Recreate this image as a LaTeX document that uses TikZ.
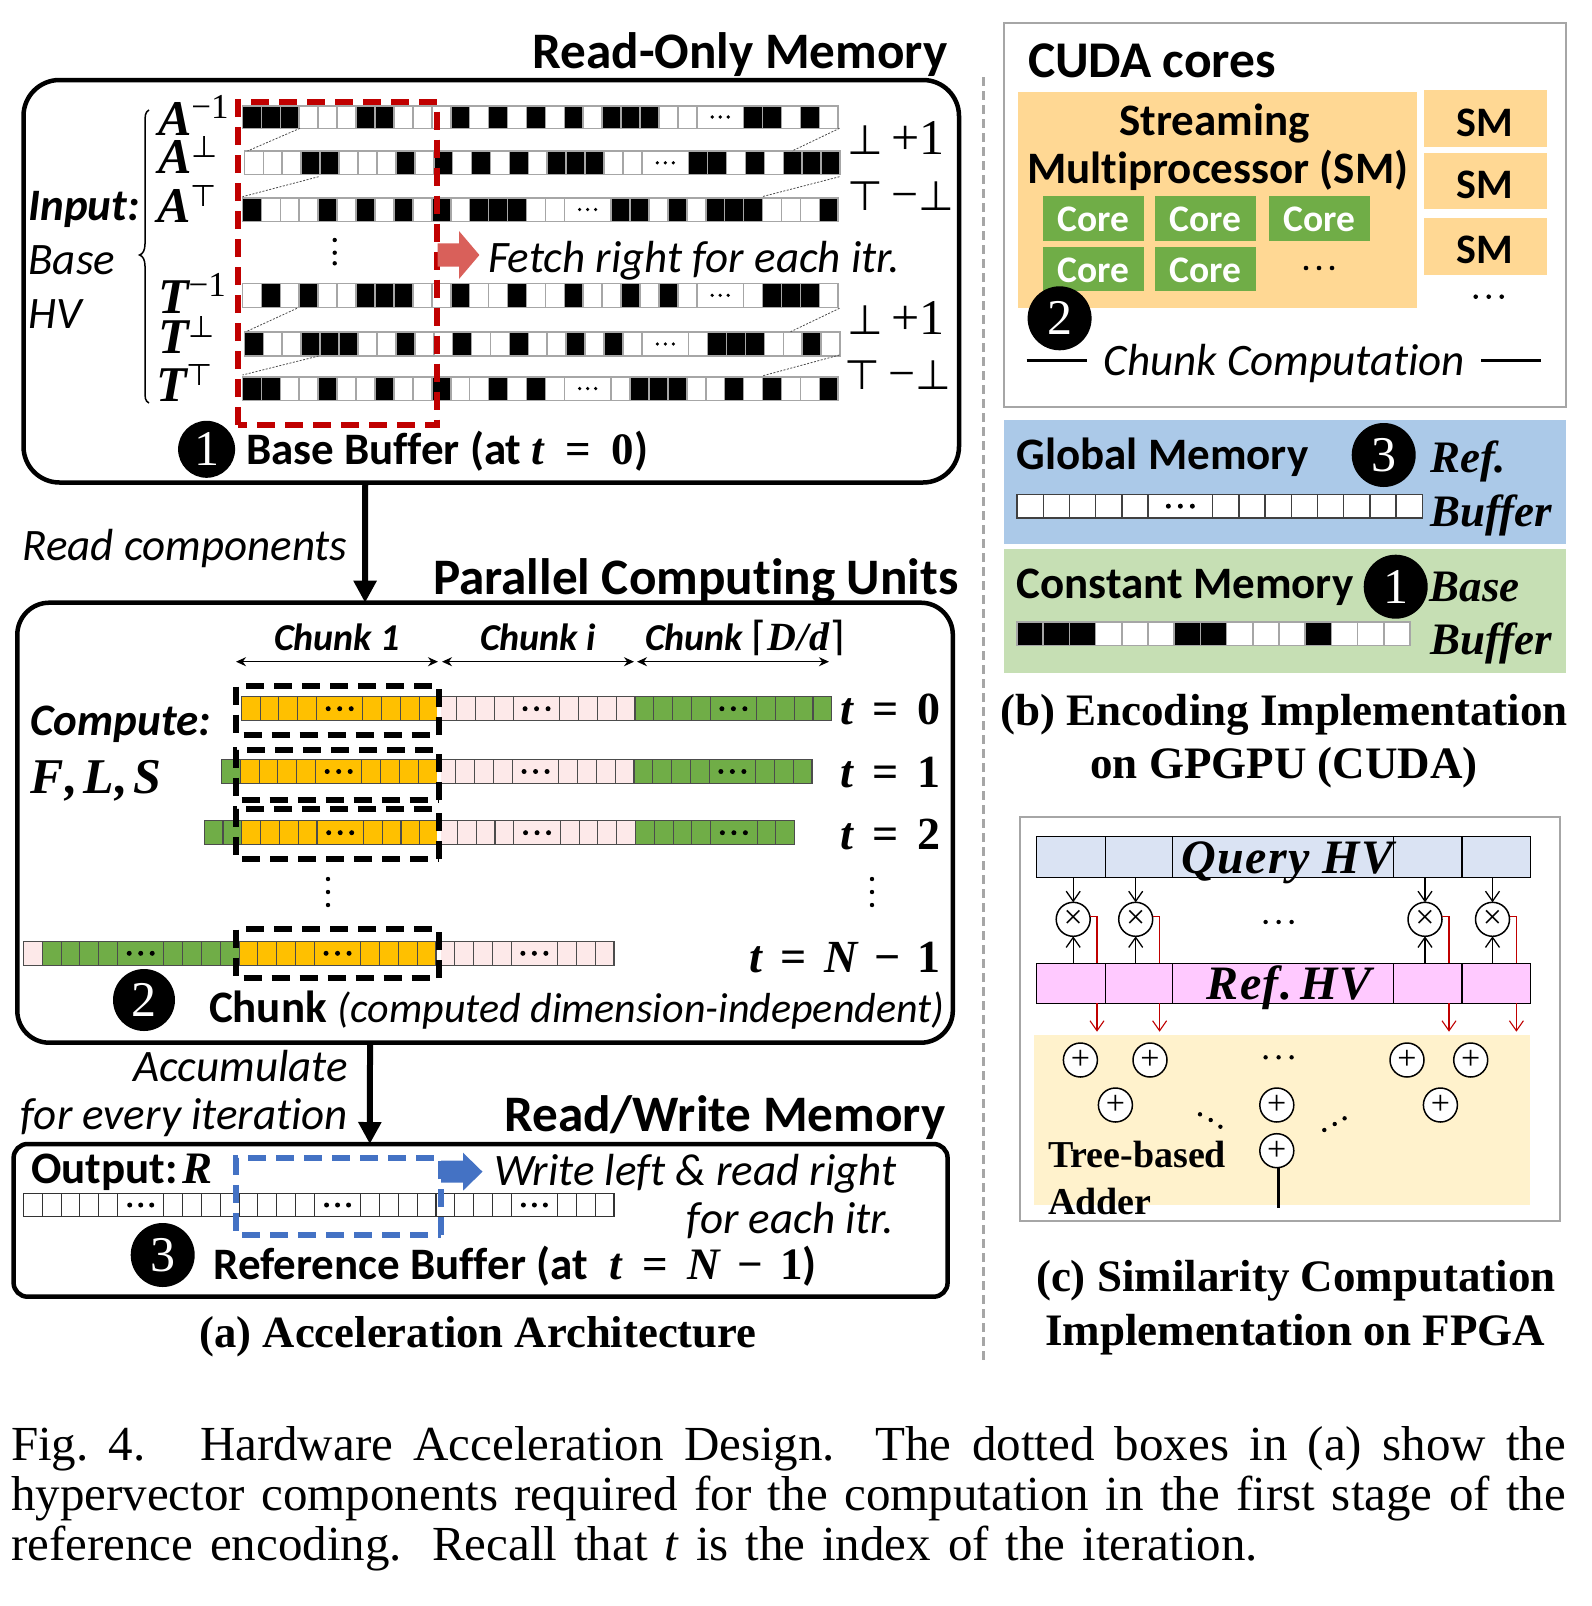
\documentclass[tikz,border=0pt]{standalone}
\usepackage{fontspec}
\setmainfont{Carlito}[Ligatures=NoCommon]
\newfontfamily\serf{Liberation Serif}
\newfontfamily\symf{DejaVu Sans}
\usetikzlibrary{arrows.meta,calc}
\definecolor{redbox}{HTML}{C00000}
\definecolor{bluebox}{HTML}{4472C4}
\definecolor{redarrow}{HTML}{D9605A}
\definecolor{chO}{HTML}{FFC000}
\definecolor{chP}{HTML}{FDE9E9}
\definecolor{chG}{HTML}{70AD47}
\definecolor{smo}{HTML}{FFD894}
\definecolor{gmem}{HTML}{ABC9E8}
\definecolor{cmem}{HTML}{C6DFB4}
\definecolor{qbar}{HTML}{DAE3F3}
\definecolor{rbar}{HTML}{FFC9FF}
\definecolor{addbg}{HTML}{FFF2CC}
\definecolor{frame}{HTML}{A6A6A6}
\newcommand\fs[1]{\fontsize{#1}{#1}\selectfont}
\newcommand\mbi[1]{{\serf\bfseries\itshape #1}}
\newcommand\mrm[1]{{\serf\bfseries #1}}
\newcommand\defcell[4]{\expandafter\def\csname cc#1\endcsname{#2}\expandafter\def\csname cw#1\endcsname{#3}\expandafter\def\csname cd#1\endcsname{#4}}
\defcell{0}{white}{1}{0}\defcell{1}{black}{1}{0}\defcell{O}{chO}{1}{0}\defcell{P}{chP}{1}{0}\defcell{G}{chG}{1}{0}
\defcell{w}{white}{2.47}{1}\defcell{o}{chO}{2.47}{1}\defcell{p}{chP}{2.47}{1}\defcell{g}{chG}{2.47}{1}
\def\dsp{8}\def\dr{1.8}
% x, ytop, height, cell width, line colour, line width, list
\newcommand\strip[7]{%
  \gdef\stripx{#1}%
  \foreach \cv in {#7}{%
    \pgfmathsetmacro\wid{\csname cw\cv\endcsname*#4}%
    \draw[draw=#5,line width=#6,fill=\csname cc\cv\endcsname] (\stripx,#2) rectangle ++(\wid,#3);%
    \if1\csname cd\cv\endcsname
      \fill[black] (\stripx+\wid/2-\dsp,#2+#3/2) circle (\dr) (\stripx+\wid/2,#2+#3/2) circle (\dr) (\stripx+\wid/2+\dsp,#2+#3/2) circle (\dr);%
    \fi
    \pgfmathsetmacro\nx{\stripx+\wid}\global\let\stripx\nx
  }}
\newcommand\dbox[2]{%
  \draw[white,line width=4] (438.5,#1) -- (438.5,#2);
  \draw[black,line width=6,dash pattern=on 18 off 10] (438.5,#2) -- (438.5,#1) -- (236,#1) -- (236,#2) -- (438.5,#2);}
\tikzset{
  lbl/.style={inner sep=0,outer sep=0},
  numc/.style={circle,fill=black,text=white,inner sep=0,outer sep=0,minimum size=#1,font=\serf\fs{50}},
  rbox/.style={draw=black,line width=4.5,rounded corners=#1,inner sep=0,outer sep=0,anchor=north west},
  flat/.style={inner sep=0,outer sep=0,anchor=north west},
  bigarrow/.style={line width=6,-{Triangle[length=22,width=22]}},
  dimarrow/.style={line width=1.5,{Stealth[length=10,width=9]}-{Stealth[length=10,width=9]}},
  thinlink/.style={line width=0.8,dash pattern=on 2 off 1.5,draw=black!70},
  opr/.style={circle,draw=black,line width=1.5,fill=white,minimum size=34,inner sep=0,outer sep=0,font=\serf\fs{34}},
  blk/.style={line width=1.3,-{Straight Barb[length=10,width=14]}},
  rdl/.style={line width=1.1,draw=redbox},
  rda/.style={line width=1.1,draw=redbox,-{Straight Barb[length=10,width=14]}},
  bar/.style={draw=black,line width=1.4,inner sep=0,outer sep=0,anchor=north west},
}
\begin{document}
\begin{tikzpicture}[x=1pt,y=-1pt,every node/.append style={lbl}]
\useasboundingbox (0,0) rectangle (1592,1606);
\fill[white] (0,0) rectangle (1592,1606);
% ---- boxes (a)
\node[rbox=36,minimum width=935.5,minimum height=402.5] (box1) at (23.5,80) {};
\node[rbox=32,minimum width=935.5,minimum height=440] (box2) at (17.3,602.7) {};
\node[rbox=14,minimum width=934,minimum height=152.7] (box3) at (13.6,1144) {};
\draw[bigarrow] ([xshift=-126pt]box1.south) -- ([xshift=-120pt]box2.north);
\draw[bigarrow] ([xshift=-115pt]box2.south) -- ([xshift=-110.8pt]box3.north);
\node[anchor=base east,font=\bfseries\fs{51.2}] (t1) at (947.5,68.7) {Read-Only Memory};
\node[anchor=base east,font=\bfseries\fs{51.2}] (t2) at (958.5,594.5) {Parallel Computing Units};
\node[anchor=base east,font=\bfseries\fs{51.2}] (t3) at (945.5,1131.5) {Read/Write Memory};
\node[anchor=base west,font=\itshape\fs{45}] (rc) at (22.5,560.5) {Read components};
\node[anchor=base east,font=\itshape\fs{45}] (ac1) at (348,1081) {Accumulate};
\node[anchor=base east,font=\itshape\fs{45}] (ac2) at (348,1129) {for every iteration};
% ---- rows of box 1
\def\c{18.93}
\strip{242.5}{105.7}{22.6}{\c}{frame}{1.6}{1,1,1,0,0,0,1,1,0,0,0,1,0,1,0,1,0,1,0,1,1,1,0,0,w,1,1,0,1,0}
\strip{244.4}{151}{23.6}{\c}{frame}{1.6}{0,0,0,1,1,0,0,0,1,0,1,0,1,0,1,0,1,1,1,0,0,w,1,1,0,1,0,1,1,1}
\strip{242.5}{197.7}{23.6}{\c}{frame}{1.6}{1,0,0,0,1,0,1,0,1,0,1,0,1,1,1,0,0,w,1,1,0,1,0,1,1,1,0,0,0,1}
\strip{242.5}{283.3}{24}{\c}{frame}{1.6}{0,1,0,1,0,0,1,1,1,0,0,1,0,0,1,0,0,1,0,0,1,0,1,0,w,0,1,1,1,0}
\strip{244.4}{332}{24}{\c}{frame}{1.6}{1,0,0,1,1,1,0,0,1,0,0,1,0,0,1,0,0,1,0,1,0,w,0,1,1,1,0,0,1,0}
\strip{242.5}{376.7}{23.6}{\c}{frame}{1.6}{1,1,0,0,1,0,0,1,0,0,1,0,0,1,0,1,0,w,0,1,1,1,0,0,1,0,1,0,0,1}
\draw[thinlink] (300,128.3) -- (247.5,151) (839.5,128.3) -- (792,151);
\draw[thinlink] (318.6,176.7) -- (242.5,196.7) (839.5,176.7) -- (762,196.7);
\draw[thinlink] (297,308.3) -- (246,331.7) (839.5,308.3) -- (790.6,331.7);
\draw[thinlink] (318.6,356) -- (242.5,375) (839.5,355) -- (762,376);
\draw[redbox,line width=6,dash pattern=on 18 off 10] (238,425) -- (238,102) -- (437.4,102) -- (437.4,425) -- cycle;
\draw[fill=redarrow,draw=none] (437.5,243.3) -- (459,243.3) -- (459,231) -- (479.4,255) -- (459,279) -- (459,266.7) -- (437.5,266.7) -- cycle;
\node[anchor=base west,font=\itshape\fs{45}] (fetch) at (488,272) {Fetch right for each itr.};
\foreach \yy in {240,252.7,263.3}{\fill (334.7,\yy) circle (2.2);}
% brace
\draw[line width=1.5] (149,110) .. controls (145,112) and (145,116) .. (145,124) -- (145,244) .. controls (145,250) and (143,254) .. (139.5,255) .. controls (143,256) and (145,260) .. (145,266) -- (145,390) .. controls (145,398) and (145,401) .. (149,403);
\node[anchor=base west,font=\bfseries\itshape\fs{45}] (inp) at (28.5,220.5) {Input:};
\node[anchor=base west,font=\itshape\fs{45}] (bs) at (28.5,274.5) {Base};
\node[anchor=base west,font=\itshape\fs{45}] (hv) at (28.5,328.2) {HV};
\node[anchor=base west] (la1) at (158,135) {\fs{50}\mbi{A}\raisebox{17pt}{\serf\fs{35}\textminus 1}};
\node[anchor=base west] (la2) at (158,173) {\fs{50}\mbi{A}\raisebox{16pt}{\symf\fs{30}⊥}};
\node[anchor=base west] (la3) at (157,222.7) {\fs{50}\mbi{A}\raisebox{16pt}{\symf\fs{30}⊤}};
\node[anchor=base west] (lt1) at (158,313) {\fs{50}\mbi{T}\raisebox{17pt}{\serf\fs{35}\textminus 1}};
\node[anchor=base west] (lt2) at (158,353) {\fs{50}\mbi{T}\raisebox{16pt}{\symf\fs{30}⊥}};
\node[anchor=base west] (lt3) at (156,401.7) {\fs{50}\mbi{T}\raisebox{16pt}{\symf\fs{30}⊤}};
\newcommand\plusone{{\symf\fs{41}⊥}\hspace{9pt}{\serf\fs{50}+1}}
\newcommand\minusbot{{\symf\fs{41}⊤}\hspace{9pt}{\serf\fs{48}\textminus}{\symf\fs{41}⊥}}
\node[anchor=base west] (r1) at (847,154.7) {\plusone};
\node[anchor=base west] (r2) at (847,210) {\minusbot};
\node[anchor=base west] (r3) at (847,334) {\plusone};
\node[anchor=base west] (r4) at (844,389.7) {\minusbot};
\node[numc=57] (c1) at (206.6,449.3) {1};
\node[anchor=base west,font=\bfseries\fs{45}] (bb) at (246,464.7) {Base Buffer (at \mbi{t}\hspace{21pt}\mrm{=}\hspace{21pt}\mrm{0})};
% ---- box 2
\draw[dimarrow] (236,661.7) -- (438,661.7);
\draw[dimarrow] (442,661.7) -- (634,661.7);
\draw[dimarrow] (637,661.7) -- (829,661.7);
\node[anchor=base,font=\bfseries\itshape\fs{38}] (ch1) at (337,650) {Chunk 1};
\node[anchor=base,font=\bfseries\itshape\fs{38}] (chi) at (538,650) {Chunk i};
\node[anchor=base,font=\bfseries\itshape\fs{38}] (chd) at (745,650) {Chunk {\symf\upshape\mdseries\fs{40}⌈}\mbi{\fs{40}D\hspace{1pt}/\hspace{1pt}d}{\symf\upshape\mdseries\fs{40}⌉}};
\def\d{18.8}\def\dsp{11.5}\def\dr{2.5}
\strip{241.3}{696.7}{24}{\d}{black!70}{1.1}{O,O,O,O,o,O,O,O,O,P,P,P,P,p,P,P,P,P,G,G,G,G,g,G,G,G,G}
\strip{221.5}{759.3}{24.4}{\d}{black!70}{1.1}{G,O,O,O,O,o,O,O,O,O,P,P,P,P,p,P,P,P,P,G,G,G,G,g,G,G,G}
\strip{204.2}{820.7}{24}{\d}{black!70}{1.1}{G,G,O,O,O,O,o,O,O,O,O,P,P,P,P,p,P,P,P,P,G,G,G,G,g,G,G}
\strip{23.5}{941.3}{24}{\d}{black!70}{1.1}{P,G,G,G,G,g,G,G,G,G,O,O,O,O,o,O,O,O,O,P,P,P,P,p,P,P,P}
\dbox{686}{735}\dbox{750}{800}\dbox{809}{858.7}\dbox{929}{978}
\foreach \yy in {879,892,905}{\fill (328,\yy) circle (2.2);\fill (872,\yy) circle (2.2);}
\node[anchor=base west,font=\bfseries\itshape\fs{45}] (cp) at (30.5,735) {Compute:};
\node[anchor=base west] (fls) at (30.5,793.7) {\fs{50}\mbi{F\hspace{2pt},\hspace{5pt}L\hspace{2pt},\hspace{5pt}S}};
\newcommand\teq[1]{\fs{46}\mbi{t}\hspace{19.5pt}\mrm{=}\hspace{19.5pt}\mrm{#1}}
\node[anchor=base east] (t0) at (941,724) {\teq{0}};
\node[anchor=base east] (tt1) at (941,787.7) {\teq{1}};
\node[anchor=base east] (tt2) at (941,849.5) {\teq{2}};
\node[anchor=base east] (tn) at (941,972.7) {\fs{46}\mbi{t}\hspace{18pt}\mrm{=}\hspace{18pt}\mbi{N}\hspace{17pt}\mrm{\textminus}\hspace{17pt}\mrm{1}};
\node[numc=62] (c2) at (144,1000) {2};
\node[anchor=base west] (cc) at (209,1022.7) {{\fs{45}\textbf{Chunk}}\hspace{11pt}{\fs{42}\textit{(computed dimension-independent)}}};
% ---- box 3
\node[anchor=base west,font=\bfseries\fs{45}] (ou) at (31,1183.7) {Output:\hspace{5pt}\mbi{R}};
\def\dsp{11}
\strip{23.5}{1193.3}{23.4}{\d}{black!80}{1.1}{0,0,0,0,0,w,0,0,0,0,0,0,0,0,w,0,0,0,0,0,0,0,0,w,0,0,0}
\draw[fill=bluebox,draw=none] (441,1160.7) -- (463,1160.7) -- (463,1152.7) -- (482.5,1171.7) -- (463,1190.7) -- (463,1182.7) -- (441,1182.7) -- cycle;
\draw[bluebox,line width=6,dash pattern=on 18 off 10] (441,1235) -- (441,1158.3) -- (236.3,1158.3) -- (236.3,1235) -- cycle;
\node[anchor=base west,font=\itshape\fs{45}] (wl) at (494,1185) {Write left \& read right};
\node[anchor=base east,font=\itshape\fs{45}] (wr) at (894,1233.7) {for each itr.};
\node[numc=64] (c3) at (162.7,1255) {3};
\node[anchor=base west,font=\bfseries\fs{45}] (rb) at (213.4,1279.5) {Reference Buffer (at\hspace{22pt}\mbi{t}\hspace{20pt}\mrm{=}\hspace{20pt}\mbi{N}\hspace{17pt}\mrm{\textminus}\hspace{17pt}\mrm{1})};
\node[anchor=base,font=\serf\bfseries\fs{44.7}] (capa) at (478,1347.5) {(a) Acceleration Architecture};
% ---- divider
\draw[frame,line width=2.5,dash pattern=on 9 off 5] (983.5,77) -- (983.5,1362.6);
% ---- (b) top
\node[flat,draw=frame,line width=2,minimum width=561.8,minimum height=384.6] (cuda) at (1004,22.7) {};
\node[anchor=base west,font=\bfseries\fs{51.5}] (cudat) at (1028,77.7) {CUDA cores};
\node[flat,fill=smo,minimum width=399,minimum height=216] (smb) at (1018,92) {};
\node[anchor=base,font=\bfseries\fs{45}] (st) at (1214.7,135) {Streaming};
\node[anchor=base,font=\bfseries\fs{45}] (mp) at (1217.7,183) {Multiprocessor (SM)};
\newcommand\corebox[3]{\node[flat,fill=chG,minimum width=100.6,minimum height=44.5] (#1) at (#2,#3) {};\node[anchor=base,text=white,font=\bfseries\fs{37.5}] (#1t) at ($(#2,#3)+(50.3,35.5)$) {Core};}
\corebox{co1}{1043}{196}\corebox{co2}{1155}{196}\corebox{co3}{1269}{196}
\corebox{co4}{1043}{246.7}\corebox{co5}{1155}{246.7}
\foreach \xx in {-13,0,13}{\fill ($(1319,268)+(\xx,0)$) circle (2.3);\fill ($(1488.7,296.7)+(\xx,0)$) circle (2.3);}
\node[flat,fill=smo,minimum width=123,minimum height=56.7] (sm1) at (1424,90) {};
\node[flat,fill=smo,minimum width=123,minimum height=56] (sm2) at (1424,153.3) {};
\node[flat,fill=smo,minimum width=123,minimum height=56.7] (sm3) at (1424,218.3) {};
\node[anchor=base,font=\bfseries\fs{42}] (smt1) at (1485,136.5) {SM};
\node[anchor=base,font=\bfseries\fs{42}] (smt2) at (1485,198.2) {SM};
\node[anchor=base,font=\bfseries\fs{42}] (smt3) at (1485,263.2) {SM};
\node[numc=64] (c2b) at (1059.6,318.3) {2};
\node[anchor=base west,font=\itshape\fs{45}] (cct) at (1103.7,375) {Chunk Computation};
\coordinate (l1a) at (1026.5,360);\coordinate (l1b) at (1086.7,360);\coordinate (l2a) at (1481,360);\coordinate (l2b) at (1541,360);
\draw[line width=3] (l1a) -- (l1b);
\draw[line width=3] (l2a) -- (l2b);
% ---- memories
\node[flat,fill=gmem,minimum width=561.5,minimum height=124] (gm) at (1004.3,420) {};
\node[flat,fill=cmem,minimum width=561.5,minimum height=124] (km) at (1004.3,549.3) {};
\node[anchor=base west,font=\bfseries\fs{45}] (gmt) at (1016.5,469.5) {Global Memory};
\node[anchor=base west,font=\bfseries\fs{45}] (kmt) at (1016.5,598.2) {Constant Memory};
\def\dsp{12}
\strip{1017}{494.3}{23.7}{26.2}{black!75}{1.4}{0,0,0,0,0,w,0,0,0,0,0,0,0,0}
\strip{1017}{621.7}{23.6}{26.2}{frame}{1.6}{1,1,1,0,0,0,1,1,0,0,0,1,0,0,0}
\node[numc=64] (c3b) at (1383.7,455) {3};
\node[numc=64] (c1b) at (1395.7,586.7) {1};
\node[anchor=base west] (rf) at (1430,472.7) {\fs{45}\mbi{Ref.}};
\node[anchor=base west] (bf) at (1430,526) {\fs{45}\mbi{Buffer}};
\node[anchor=base west] (bse) at (1429.6,601) {\fs{45}\mbi{Base}};
\node[anchor=base west] (bf2) at (1430,654.3) {\fs{45}\mbi{Buffer}};
\node[anchor=base,font=\serf\bfseries\fs{45}] (capb1) at (1284,725) {(b) Encoding Implementation};
\node[anchor=base,font=\serf\bfseries\fs{45}] (capb2) at (1284,778.7) {on GPGPU (CUDA)};
% ---- (c)
\node[flat,draw=frame,line width=2,minimum width=539.6,minimum height=404] (fp) at (1020.4,816.7) {};
\node[flat,fill=addbg,minimum width=496.4,minimum height=170] (add) at (1034,1035) {};
\node[bar,fill=qbar,minimum width=69,minimum height=40.6] (q1) at (1036.4,836.7) {};
\node[bar,fill=qbar,minimum width=67.1,minimum height=40.6] (q2) at (1105.4,836.7) {};
\node[bar,fill=qbar,minimum width=220.7,minimum height=40.6] (q3) at (1172.5,836.7) {};
\node[bar,fill=qbar,minimum width=68.6,minimum height=40.6] (q4) at (1393.2,836.7) {};
\node[bar,fill=qbar,minimum width=68.6,minimum height=40.6] (q5) at (1461.8,836.7) {};
\node[bar,fill=rbar,minimum width=69,minimum height=40] (b1) at (1036.4,963.3) {};
\node[bar,fill=rbar,minimum width=67.1,minimum height=40] (b2) at (1105.4,963.3) {};
\node[bar,fill=rbar,minimum width=220.7,minimum height=40] (b3) at (1172.5,963.3) {};
\node[bar,fill=rbar,minimum width=68.6,minimum height=40] (b4) at (1393.2,963.3) {};
\node[bar,fill=rbar,minimum width=68.6,minimum height=40] (b5) at (1461.8,963.3) {};
\node[anchor=base] (qt) at (1287.5,873) {\fs{48}\mbi{\addfontfeature{LetterSpace=3}Query HV}};
\node[anchor=base] (rt) at (1289,999.5) {\fs{48}\mbi{\addfontfeature{LetterSpace=3}Ref.\,HV}};
\foreach \n/\xx/\qq/\bb/\rx in {1/1073.2/q1/b1/1097,2/1135.7/q2/b2/1159.6,3/1425/q4/b4/1449,4/1492.5/q5/b5/1516.4}{
  \node[opr] (m\n) at (\xx,919.3) {×};
  \coordinate (rt\n) at (\rx,963.3);
  \coordinate (rb\n) at (\rx,1003.3);
  \coordinate (ra\n) at (\rx,1031.7);
  \draw[blk] (m\n.north |- \qq.south) -- (m\n.north);
  \draw[blk] (m\n.south |- \bb.north) -- (m\n.south);
  \draw[rdl] ([yshift=2.6pt]m\n.east) -| (rt\n);
  \draw[rda] (rb\n) -- (ra\n);
}
\foreach \n/\xx/\yy in {1/1080.4/1060,2/1150/1060,3/1407/1060,4/1470.7/1060,5/1115.4/1105,6/1276.8/1105,7/1440.4/1105,8/1276.8/1150.7}{
  \node[opr] (p\n) at (\xx,\yy) {+};
}
\coordinate (pend) at (1278,1208);
\draw[line width=3] (p8.south -| pend) -- (pend);
\foreach \xx in {-13,0,13}{\fill ($(1278.6,922)+(\xx,0)$) circle (2.2);\fill ($(1278.6,1057.3)+(\xx,0)$) circle (2.2);}
\fill (1200,1114.3) circle (2.2) (1210.7,1120) circle (2.2) (1220.4,1126.7) circle (2.2);
\fill (1324.3,1130) circle (2.2) (1334.7,1124) circle (2.2) (1344.6,1118.3) circle (2.2);
\node[anchor=base west,font=\serf\bfseries\fs{38}] (tb) at (1048,1167.5) {Tree-based};
\node[anchor=base west,font=\serf\bfseries\fs{38}] (ad) at (1048,1214.5) {Adder};
\node[anchor=base,font=\serf\bfseries\fs{45}] (capc1) at (1296,1291.5) {(c) Similarity Computation};
\node[anchor=base,font=\serf\bfseries\fs{45}] (capc2) at (1295,1345.5) {Implementation on FPGA};
% ---- caption
\node[anchor=base west,font=\serf\fs{49}] (fig1) at (11,1460) {\hbox to 1555pt{Fig.\ 4. \hskip 14pt Hardware Acceleration Design. The dotted boxes in (a) show the}};
\node[anchor=base west,font=\serf\fs{49}] (fig2) at (11,1510) {\hbox to 1555pt{hypervector components required for the computation in the first stage of the}};
\node[anchor=base west,font=\serf\fs{49}] (fig3) at (11,1560) {\hbox to 1247pt{reference encoding. Recall that \textit{t} is the index of the iteration.}};
\end{tikzpicture}
\end{document}
